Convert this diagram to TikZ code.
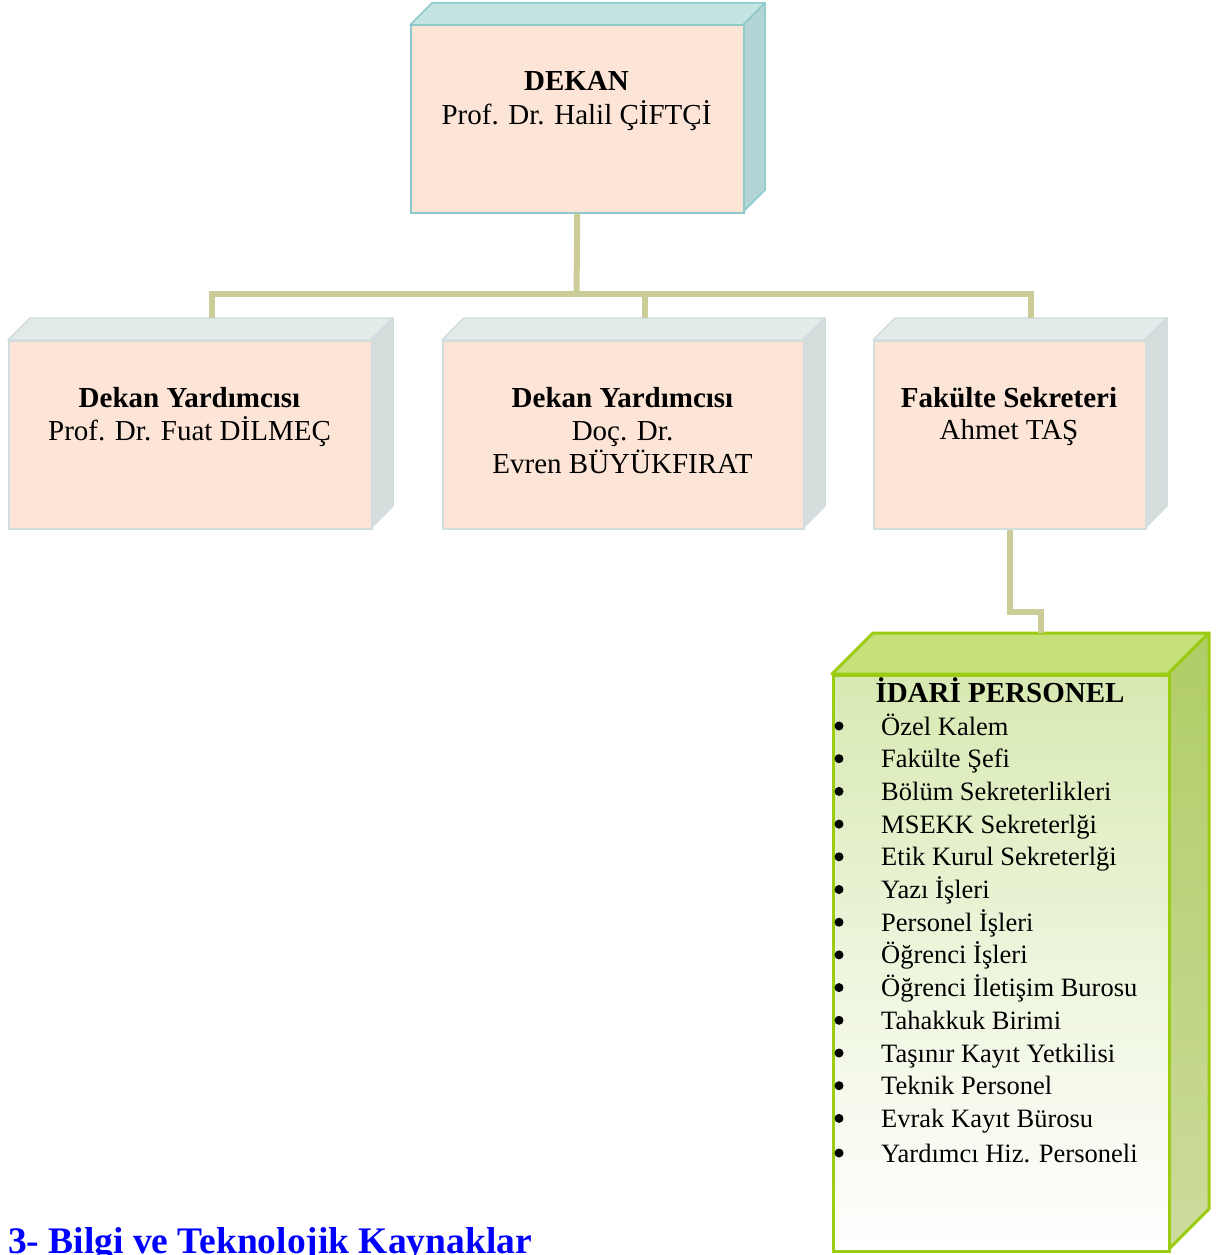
\documentclass[tikz,border=0pt]{standalone}
\usepackage{fontspec}
\setmainfont{Liberation Serif}
\usetikzlibrary{calc}
\definecolor{peach}{HTML}{FCE4D6}
\definecolor{tealTop}{HTML}{C4E3E3}
\definecolor{tealSide}{HTML}{B4D5D5}
\definecolor{tealLine}{HTML}{8FCACA}
\definecolor{greyTop}{HTML}{E3EAEA}
\definecolor{greySide}{HTML}{D5DDDD}
\definecolor{greyLine}{HTML}{D2DDDD}
\definecolor{connC}{HTML}{CCCC99}
\definecolor{gLine}{HTML}{9BCB12}
\definecolor{gTop}{HTML}{C6E17A}
\definecolor{gSideT}{HTML}{B0CD66}
\definecolor{gSideB}{HTML}{CCDB9C}
\definecolor{gFront}{HTML}{D7E9B2}
\definecolor{titleBlue}{HTML}{0000FF}
% #1 name, #2 x1, #3 y1, #4 x2, #5 y2, #6 depth, #7 front style, #8 top style, #9 side style
\newcommand\cuboid[9]{%
  \path[#8] (#2,#3) -- ({#2+#6},{#3-#6}) -- ({#4+#6},{#3-#6}) -- (#4,#3) -- cycle;
  \path[#9] (#4,#3) -- ({#4+#6},{#3-#6}) -- ({#4+#6},{#5-#6}) -- (#4,#5) -- cycle;
  \node[#7, anchor=north west, minimum width={(#4)-(#2)}, minimum height={(#5)-(#3)}] (#1) at (#2,#3) {};
  \coordinate (#1top) at ({(#2+#4)/2+#6},{#3-#6});
}
\tikzset{
  tealfront/.style={rectangle, inner sep=0, fill=peach, draw=tealLine, line width=1.5},
  tealtop/.style={fill=tealTop, draw=tealLine, line width=1.5, line join=round},
  tealside/.style={fill=tealSide, draw=tealLine, line width=1.5, line join=round},
  greyfront/.style={rectangle, inner sep=0, fill=peach, draw=greyLine, line width=1.5},
  greytop/.style={fill=greyTop, draw=greyLine, line width=1.5, line join=round},
  greyside/.style={fill=greySide, draw=greyLine, line width=1.5, line join=round},
  greenfront/.style={rectangle, inner sep=0, top color=gFront, bottom color=white, middle color=gFront!45!white, draw=gLine, line width=3},
  greentop/.style={fill=gTop, draw=gLine, line width=3, line join=round},
  greenside/.style={top color=gSideT, bottom color=gSideB, draw=gLine, line width=3, line join=round},
  conn/.style={draw=connC, line width=6},
  bt/.style={inner sep=0, anchor=base, font=\fontsize{29}{33}\selectfont\bfseries},
  nt/.style={inner sep=0, anchor=base, font=\fontsize{29}{33}\selectfont},
  lt/.style={inner sep=0, anchor=base west, font=\fontsize{26.5}{32}\selectfont},
  bul/.style={circle, inner sep=0, minimum size=9, fill=black},
}
\begin{document}
\begin{tikzpicture}[x=1pt, y=-1pt]
\useasboundingbox (0,0) rectangle (1230,1255);
% boxes
\cuboid{dekan}{410}{25}{743}{212}{22}{tealfront}{tealtop}{tealside}
\cuboid{b1}{8}{340}{371}{528}{22}{greyfront}{greytop}{greyside}
\cuboid{b2}{442}{340}{803}{528}{22}{greyfront}{greytop}{greyside}
\cuboid{b3}{873}{340}{1145}{528}{22}{greyfront}{greytop}{greyside}
\cuboid{gp}{832}{674}{1168}{1250}{41}{greenfront}{greentop}{greenside}
% connectors
\coordinate (bus) at (576.5,293.5);
\draw[conn] (b1top) |- (bus) -| (b3top);
\draw[conn] (bus) -| (b2top);
\draw[conn] (dekan.south) -- ([yshift=-3pt]bus);
\draw[conn] (b3.south) -- ++(0,82) -| (gptop);
% texts
\node[bt] (dk1) at (576.5,90) {DEKAN};
\node[nt] (dk2) at (576.5,124) {Prof. Dr. Halil ÇİFTÇİ};
\node[bt] (y11) at (189.5,407) {Dekan Yardımcısı};
\node[nt] (y12) at (189.5,440) {Prof. Dr. Fuat DİLMEÇ};
\node[bt] (y21) at (622.5,407) {Dekan Yardımcısı};
\node[nt] (y22) at (622.5,440) {Doç. Dr.};
\node[nt] (y23) at (622.5,473) {Evren BÜYÜKFIRAT};
\node[bt] (fs1) at (1009,407) {Fakülte Sekreteri};
\node[nt] (fs2) at (1009,439) {Ahmet TAŞ};
\node[bt] (ip) at (1000,702) {İDARİ PERSONEL};
\foreach \t [count=\i] in {Özel Kalem, Fakülte Şefi, Bölüm Sekreterlikleri, MSEKK Sekreterlği, Etik Kurul Sekreterlği, Yazı İşleri, Personel İşleri, Öğrenci İşleri, Öğrenci İletişim Burosu, Tahakkuk Birimi, Taşınır Kayıt Yetkilisi, Teknik Personel, Evrak Kayıt Bürosu, Yardımcı Hiz. Personeli}{
  \pgfmathsetmacro\yy{\i<14 ? 735+32.7*(\i-1) : 1162}
  \node[bul] (bul\i) at (839,\yy-9) {};
  \node[lt] (item\i) at (881,\yy) {\t};
}
\node[inner sep=0, anchor=base west, font=\fontsize{37.5}{40}\selectfont\bfseries, text=titleBlue] (heading) at (8,1253) {3- Bilgi ve Teknolojik Kaynaklar};
\end{tikzpicture}
\end{document}
